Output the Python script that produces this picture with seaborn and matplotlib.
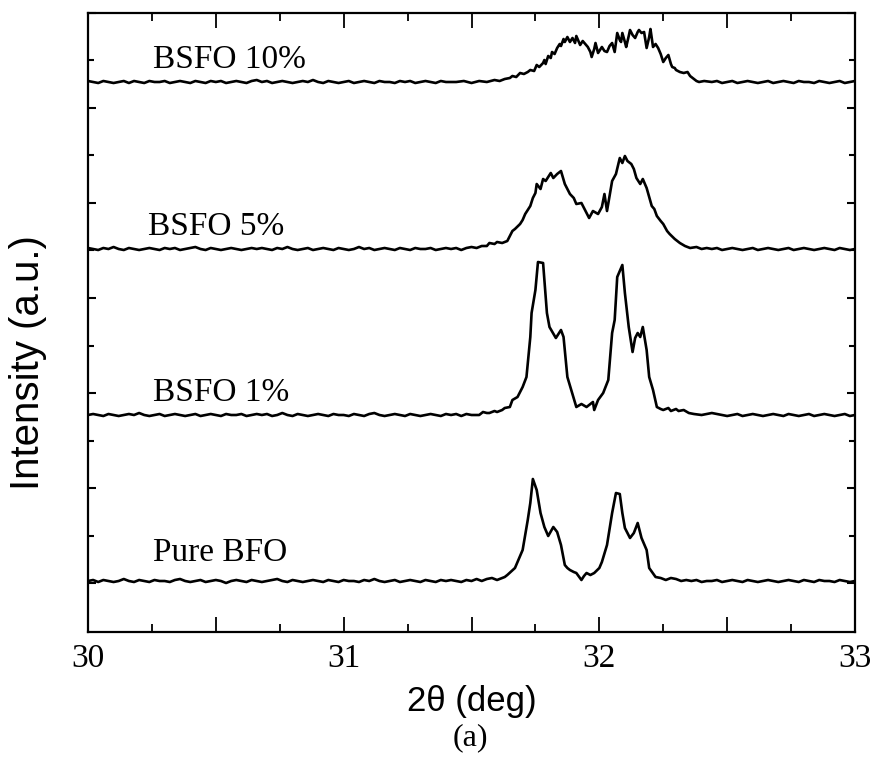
import numpy as np
import pandas as pd
import matplotlib
matplotlib.use("Agg")
import matplotlib.pyplot as plt
import seaborn as sns

# ---------------- data (intensity in arbitrary units, relative to each trace's baseline) -------------
series_names = ["Pure BFO", "BSFO 1%", "BSFO 5%", "BSFO 10%"]
offsets = [0, 166, 332, 499]

LEFT_START, LEFT_END = 30.0, 31.40    # flat background sampled evenly (0.02 deg)
RIGHT_START, RIGHT_END = 32.44, 33.0

pure_left = [0, 1, -1, 1, 0, -1, 0, 2, 0, -1, 1, 0, -1, 1, 0, 0, -1, 1, 2, 0,
             -1, 0, 1, -1, 0, 1, 0, -2, 0, 1, 0, -1, 1, 0, -1, 0, 1, 2, 0, -1,
             1, 0, -1, 0, 1, 0, -1, 1, 0, -1, 1, 0, 0, -1, 1, 0, 2, 0, -1, 0,
             1, -1, 0, 1, 0, -1, 1, 0, -1, 1, 0]
pure_peak_x = [31.42, 31.44, 31.46, 31.48, 31.50, 31.52, 31.54, 31.56, 31.58, 31.60, 31.61, 31.63, 31.64, 31.67, 31.70,
               31.72, 31.73, 31.74, 31.755, 31.77, 31.785, 31.80, 31.82, 31.835, 31.85, 31.865, 31.875, 31.885, 31.90, 31.91,
               31.93, 31.94, 31.95, 31.965, 31.98, 32.0, 32.01, 32.03, 32.05, 32.065, 32.08, 32.09, 32.10, 32.12, 32.135,
               32.15, 32.165, 32.185, 32.195, 32.22, 32.24, 32.26, 32.28, 32.30, 32.32, 32.34, 32.36, 32.38, 32.40, 32.42]
pure_peak_y = [1, 0, -1, 1, 0, 2, 0, 2, 3, 1, 2, 4, 6, 13, 31,
               61, 78, 102, 91, 68, 54, 45, 54, 49, 36, 16, 13, 11, 9, 8,
               1, 5, 8, 6, 8, 13, 19, 36, 68, 88, 87, 68, 53, 43, 48,
               58, 43, 31, 13, 4, 3, 1, 3, 2, 0, 1, 0, 1, -1, 0]
pure_right = [0, 1, -1, 0, 1, 0, -1, 1, 0, -1, 0, 1, 0, -1, 0, 1, 0, -1, 1, 0,
              -1, 1, 0, 0, -1, 1, 0, -1, 0]

b1_left = [0, 1, 0, -1, 1, 0, -1, 0, 1, 0, 2, 0, -1, 0, 1, -1, 0, 1, 0, -1,
           0, 1, -1, 0, 1, 0, -1, 1, 0, 0, 1, -1, 0, 1, 0, 1, -1, 0, 2, 0,
           -1, 1, 0, -1, 0, 1, 0, -1, 1, 0, 0, -1, 1, 0, -1, 1, 2, 0, -1, 0,
           1, 0, -1, 1, 0, -1, 0, 1, 0, -1, 1]
b1_peak_x = [31.42, 31.44, 31.46, 31.48, 31.50, 31.51, 31.53, 31.545, 31.56, 31.57, 31.59, 31.60, 31.62, 31.63, 31.65,
             31.66, 31.68, 31.70, 31.715, 31.73, 31.735, 31.75, 31.76, 31.78, 31.795, 31.805, 31.83, 31.85, 31.86, 31.875,
             31.89, 31.91, 31.93, 31.95, 31.975, 31.98, 31.995, 32.015, 32.035, 32.05, 32.06, 32.07, 32.09, 32.10, 32.115,
             32.13, 32.14, 32.15, 32.16, 32.17, 32.185, 32.195, 32.21, 32.225, 32.24, 32.25, 32.27, 32.28, 32.30, 32.31,
             32.33, 32.35, 32.37, 32.40, 32.42]
b1_peak_y = [0, 1, -1, 1, 0, 0, 0, 3, 2, 2, 4, 3, 5, 7, 8,
             15, 18, 28, 38, 78, 102, 125, 153, 152, 102, 88, 77, 85, 78, 38,
             25, 8, 11, 8, 13, 5, 15, 22, 35, 82, 95, 138, 150, 122, 88,
             63, 77, 82, 78, 88, 65, 38, 25, 8, 6, 5, 7, 4, 6, 4,
             5, 2, 1, 0, 1]
b1_right = [2, 1, 0, -1, 0, 1, -1, 0, 1, 0, -1, 0, 1, 0, -1, 1, 0, -1, 0, 1,
            -1, 0, 1, 0, -1, 0, 1, -1, 0]

b5_left = [1, 0, -1, 1, 0, 2, 0, -1, 1, 0, -1, 0, 1, 0, -1, 1, 0, 1, -1, 0,
           1, 2, 0, -1, 1, 0, -1, 0, 1, 0, -1, 0, 1, 0, 1, 0, -1, 1, 0, 2,
           0, -1, 0, 1, -1, 0, 1, 0, -1, 1, 0, -1, 0, 2, 0, 1, -1, 0, 1, 0,
           -1, 1, 0, -1, 1, 0, 0, 1, -1, 0, 1]
b5_peak_x = [31.42, 31.44, 31.46, 31.48, 31.50, 31.52, 31.54, 31.56, 31.57, 31.59, 31.60, 31.62, 31.64, 31.66, 31.67,
             31.69, 31.70, 31.71, 31.72, 31.73, 31.74, 31.75, 31.755, 31.77, 31.78, 31.79, 31.81, 31.82, 31.835, 31.85,
             31.865, 31.875, 31.885, 31.90, 31.91, 31.93, 31.94, 31.96, 31.975, 31.995, 32.01, 32.02, 32.03, 32.05, 32.065,
             32.08, 32.09, 32.10, 32.11, 32.125, 32.135, 32.145, 32.16, 32.17, 32.185, 32.205, 32.215, 32.225, 32.24, 32.25,
             32.265, 32.275, 32.295, 32.315, 32.335, 32.355, 32.38, 32.40, 32.42]
b5_peak_y = [0, 1, -1, 1, 2, 1, 3, 3, 6, 5, 7, 6, 8, 18, 20,
             25, 29, 35, 39, 43, 51, 56, 65, 60, 70, 68, 76, 71, 75, 78,
             65, 60, 55, 51, 45, 46, 41, 31, 38, 35, 42, 55, 38, 68, 75,
             91, 86, 93, 88, 85, 80, 71, 65, 70, 61, 43, 40, 33, 28, 25,
             18, 15, 10, 6, 3, 1, 2, 0, 1]
b5_right = [0, 1, -1, 0, 1, 0, -1, 0, 1, -1, 0, 1, 0, -1, 0, 1, -1, 0, 1, 0,
            -1, 0, 1, 0, -1, 1, 0, -1, 0]

b10_left = [1, 0, -1, 1, 0, -1, 0, 1, -1, 1, 0, -1, 1, 0, 0, 1, -1, 0, 1, 0,
            -1, 1, 0, -1, 1, 0, 1, -1, 0, 1, 0, -1, 1, 2, 0, 1, -1, 0, 1, 0,
            -1, 0, 1, 0, 2, 0, -1, 1, 0, -1, 0, 1, -1, 0, 1, 0, -1, 1, 0, 0,
            -1, 1, 0, 1, -1, 0, 1, 0, -1, 1, 0]
b10_peak_x = [31.42, 31.44, 31.47, 31.50, 31.53, 31.56, 31.59, 31.61, 31.63, 31.65, 31.66, 31.675, 31.69, 31.705, 31.72,
              31.73, 31.745, 31.755, 31.765, 31.78, 31.785, 31.79, 31.80, 31.81, 31.815, 31.825, 31.835, 31.845, 31.85, 31.86,
              31.865, 31.875, 31.885, 31.895, 31.905, 31.91, 31.92, 31.925, 31.935, 31.945, 31.955, 31.965, 31.97, 31.98, 31.985,
              31.995, 32.005, 32.01, 32.02, 32.03, 32.04, 32.05, 32.06, 32.07, 32.08, 32.085, 32.09, 32.10, 32.105, 32.115,
              32.12, 32.13, 32.14, 32.15, 32.155, 32.165, 32.175, 32.185, 32.195, 32.20, 32.21, 32.22, 32.23, 32.24, 32.25,
              32.26, 32.27, 32.28, 32.285, 32.295, 32.30, 32.315, 32.33, 32.345, 32.355, 32.365, 32.38, 32.39, 32.41]
b10_peak_y = [0, 0, 1, -1, 1, 0, 2, 1, 3, 4, 6, 5, 9, 8, 10,
              12, 11, 17, 15, 19, 22, 18, 26, 24, 30, 28, 34, 38, 36, 43,
              40, 45, 40, 44, 39, 46, 40, 37, 41, 38, 35, 30, 25, 33, 39,
              29, 33, 35, 31, 30, 36, 39, 30, 49, 42, 40, 49, 40, 35, 46,
              52, 47, 44, 50, 52, 49, 50, 34, 45, 53, 35, 38, 34, 28, 20,
              24, 27, 18, 15, 14, 12, 10, 9, 10, 6, 4, 1, 0, 1]
b10_right = [0, 1, -1, 0, 1, -1, 0, 1, 0, -1, 0, 1, -1, 0, 1, 0, -1, 1, 0, 0,
             -1, 1, 0, -1, 0, 1, -1, 0, 1]

# ---------------- build long table ----------------
parts = {
    "Pure BFO": (pure_left, pure_peak_x, pure_peak_y, pure_right),
    "BSFO 1%": (b1_left, b1_peak_x, b1_peak_y, b1_right),
    "BSFO 5%": (b5_left, b5_peak_x, b5_peak_y, b5_right),
    "BSFO 10%": (b10_left, b10_peak_x, b10_peak_y, b10_right),
}
frames = []
for name, off in zip(series_names, offsets):
    lft, px, py, rgt = parts[name]
    x = np.concatenate([np.linspace(LEFT_START, LEFT_END, len(lft)), px,
                        np.linspace(RIGHT_START, RIGHT_END, len(rgt))])
    y = np.concatenate([lft, py, rgt]).astype(float) + off
    frames.append(pd.DataFrame({"two_theta": x, "intensity": y, "sample": name}))
df = pd.concat(frames, ignore_index=True)

# ---------------- plot ----------------
sns.set_theme(style="ticks")
plt.rcParams["font.family"] = ["Liberation Serif", "DejaVu Serif"]
plt.rcParams["text.color"] = "black"
plt.rcParams["axes.labelcolor"] = "black"
plt.rcParams["xtick.color"] = "black"
plt.rcParams["ytick.color"] = "black"

fig = plt.figure(figsize=(8.71, 7.57), dpi=100)
ax = fig.add_axes([88 / 871, (757 - 632) / 757, (855 - 88) / 871, (632 - 13) / 757])

sns.lineplot(data=df, x="two_theta", y="intensity", hue="sample", units="sample",
             estimator=None, sort=False, palette=["black"] * 4, linewidth=1.9,
             legend=False, ax=ax)

ax.set_xlim(30, 33)
ax.set_ylim(-51, 568)

ax.set_xticks([30, 30.5, 31, 31.5, 32, 32.5, 33])
ax.set_xticklabels(["30", "", "31", "", "32", "", "33"])
ax.set_xticks([30.25, 30.75, 31.25, 31.75, 32.25, 32.75], minor=True)

ax.set_yticks([-2, 93, 188, 283, 378, 473, 568])
ax.set_yticks([45, 140, 235, 331, 426, 521], minor=True)
ax.set_yticklabels([])

ax.tick_params(axis="x", which="major", direction="in", length=11, width=1.3,
               top=True, bottom=True, labelsize=24, pad=8, colors="black")
ax.tick_params(axis="x", which="minor", direction="in", length=6, width=1.3,
               top=True, bottom=True)
ax.tick_params(axis="y", which="major", direction="in", length=6, width=1.5,
               left=True, right=True)
ax.tick_params(axis="y", which="minor", direction="in", length=4, width=1.5,
               left=True, right=True)

for sp in ax.spines.values():
    sp.set_linewidth(1.6)
    sp.set_color("black")
    sp.set_visible(True)

ax.set_xlabel("2θ (deg)", fontsize=25, family=["Liberation Sans", "DejaVu Sans"], labelpad=8)
ax.set_ylabel("Intensity (a.u.)", fontsize=29, family=["Liberation Sans", "DejaVu Sans"])
ax.yaxis.set_label_coords(-0.054, 0.435)

label_pos = {"BSFO 10%": (30.254, 521), "BSFO 5%": (30.235, 354),
             "BSFO 1%": (30.254, 188), "Pure BFO": (30.254, 28)}
for name in series_names:
    tx, ty = label_pos[name]
    ax.text(tx, ty, name, fontsize=24, ha="left", va="center")

fig.text(470 / 871, 1 - 738 / 757, "(a)", fontsize=23, ha="center", va="center")

fig.savefig("out.png", dpi=100)
